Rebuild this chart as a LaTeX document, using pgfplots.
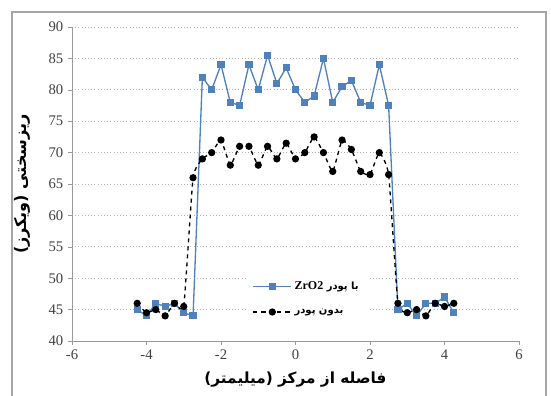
\documentclass[border=0pt]{standalone}
\usepackage{pgfplots}
\pgfplotsset{compat=1.18}
\usepackage{fontspec}
\setmainfont{Liberation Serif}
\newfontfamily\arabicfont[Script=Arabic]{DejaVu Sans}
\TeXXeTstate=1
\definecolor{xlblue}{HTML}{4F81BD}
\begin{document}
\begin{tikzpicture}
\useasboundingbox (-54pt,-41.25pt) rectangle (359.25pt,255.75pt);
\draw[gray!70, line width=0.8pt] (-45pt,-42pt) -- (-45pt,246.75pt) -- (355.5pt,246.75pt) -- (355.5pt,-42pt);
\begin{axis}[
  scale only axis,
  width=335.25pt, height=235.5pt,
  xmin=-6, xmax=6, ymin=40, ymax=90,
  xtick={-6,-4,...,6}, ytick={40,45,...,90},
  axis lines*=left,
  axis line style={gray!80, line width=0.6pt},
  tick style={gray!80},
  tick align=outside,
  major tick length=3pt,
  ymajorgrids,
  grid style={gray!60, dotted, line width=0.6pt},
  tick label style={font=\fontsize{11}{13}\selectfont, text=black!75},
  /pgf/number format/assume math mode=true,
  xlabel={\arabicfont\bfseries\beginR فاصله از مرکز (میلیمتر)\endR},
  ylabel={\arabicfont\bfseries\beginR ریزسختی (ویکرز)\endR},
  xlabel style={at={(axis description cs:0.5,-0.124)}, anchor=center, font=\fontsize{11.5}{13}\selectfont},
  ylabel style={at={(axis description cs:-0.112,0.5)}, anchor=center, rotate=0, font=\fontsize{12}{13}\selectfont},
  legend style={at={(axis cs:-1.3,50.8)}, anchor=north west, draw=none, fill=white,
     font=\fontsize{7.5}{9}\selectfont, row sep=9pt, inner sep=4pt},
  legend cell align=left,
  legend image code/.code={\draw[mark repeat=2,mark phase=2] plot coordinates {(0cm,0cm)(0.5cm,0cm)(1cm,0cm)};},
]
\addplot[xlblue, line width=1pt, mark=square*, mark size=2.2pt, mark options={solid, fill=xlblue}] coordinates {
(-4.25,45) (-4,44) (-3.75,46) (-3.5,45.5) (-3.25,46) (-3,44.5) (-2.75,44)
(-2.5,82) (-2.25,80) (-2,84) (-1.75,78) (-1.5,77.5) (-1.25,84) (-1,80)
(-0.75,85.5) (-0.5,81) (-0.25,83.5) (0,80) (0.25,78) (0.5,79) (0.75,85)
(1,78) (1.25,80.5) (1.5,81.5) (1.75,78) (2,77.5) (2.25,84) (2.5,77.5)
(2.75,45) (3,46) (3.25,44) (3.5,46) (3.75,46) (4,47) (4.25,44.5)
};
\addlegendentry{\arabicfont\bfseries\beginR با پودر \beginL{\rmfamily\bfseries\fontsize{9}{10}\selectfont ZrO2}\endL\endR}
\addplot[black, line width=1pt, dashed, mark=*, mark size=2.2pt, mark options={solid}, smooth, tension=0.25] coordinates {
(-4.25,46) (-4,44.5) (-3.75,45) (-3.5,44) (-3.25,46) (-3,45.5) (-2.75,66)
(-2.5,69) (-2.25,70) (-2,72) (-1.75,68) (-1.5,71) (-1.25,71) (-1,68)
(-0.75,71) (-0.5,69) (-0.25,71.5) (0,69) (0.25,70) (0.5,72.5) (0.75,70)
(1,67) (1.25,72) (1.5,70.5) (1.75,67) (2,66.5) (2.25,70) (2.5,66.5)
(2.75,46) (3,44.5) (3.25,45) (3.5,44) (3.75,46) (4,45.5) (4.25,46)
};
\addlegendentry{\arabicfont\bfseries\beginR بدون پودر\endR}
\end{axis}
\end{tikzpicture}
\end{document}
